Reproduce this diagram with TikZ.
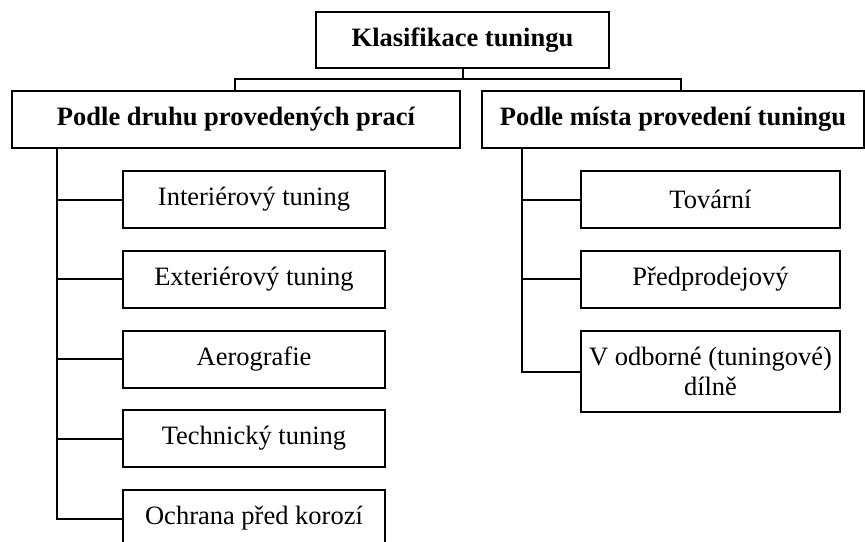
\documentclass[tikz,border=0pt]{standalone}
\usepackage{fontspec}
\setmainfont{Liberation Serif}
\begin{document}
\begin{tikzpicture}[x=1pt,y=-1pt,line width=2pt,
  box/.style={draw,inner sep=0pt,minimum height=57pt,align=center,font=\fontsize{26.5}{30}\selectfont},
  head/.style={box,font=\fontsize{26.5}{30}\selectfont\bfseries}]
\useasboundingbox (0,0) rectangle (865,541);
\node[head,minimum width=293pt,minimum height=56pt](kt) at (462.5,40) {Klasifikace tuningu};
%
\node[head,minimum width=448pt](druh) at (236,119.5) {Podle druhu provedených prací};
\node[head,minimum width=382pt](misto) at (673,119.5) {Podle místa provedení tuningu};
\coordinate(busL) at (235,79);
\coordinate(busR) at (681,79);
\draw(kt.south) -- (kt.south |- busL);
\draw(busL |- druh.north) -- (busL) -- (busR) -- (busR |- misto.north);
%
\node[box,minimum width=262pt](inter) at (254,199.5) {Interiérový tuning};
\node[box,minimum width=262pt](exter) at (254,279) {Exteriérový tuning};
\node[box,minimum width=262pt](aero) at (254,359) {Aerografie};
\node[box,minimum width=262pt](tech) at (254,438.5) {Technický tuning};
\node[box,minimum width=262pt](ochrana) at (254,518.5) {Ochrana před korozí};
\coordinate(trunkL) at (57,148);
\draw(trunkL) |- (ochrana.west);
\foreach \n in {inter,exter,aero,tech}
  \draw(trunkL |- \n) -- (\n.west);
%
\node[box,minimum width=259pt](tovarni) at (710.5,199.5) {Tovární};
\node[box,minimum width=259pt](predprodej) at (710.5,279) {Předprodejový};
\node[box,minimum width=259pt,minimum height=81pt](dilna) at (710.5,371.5) {V odborné (tuningové)\\dílně};
\coordinate(trunkR) at (522,148);
\draw(trunkR) |- (dilna.west);
\foreach \n in {tovarni,predprodej}
  \draw(trunkR |- \n) -- (\n.west);
\end{tikzpicture}
\end{document}
